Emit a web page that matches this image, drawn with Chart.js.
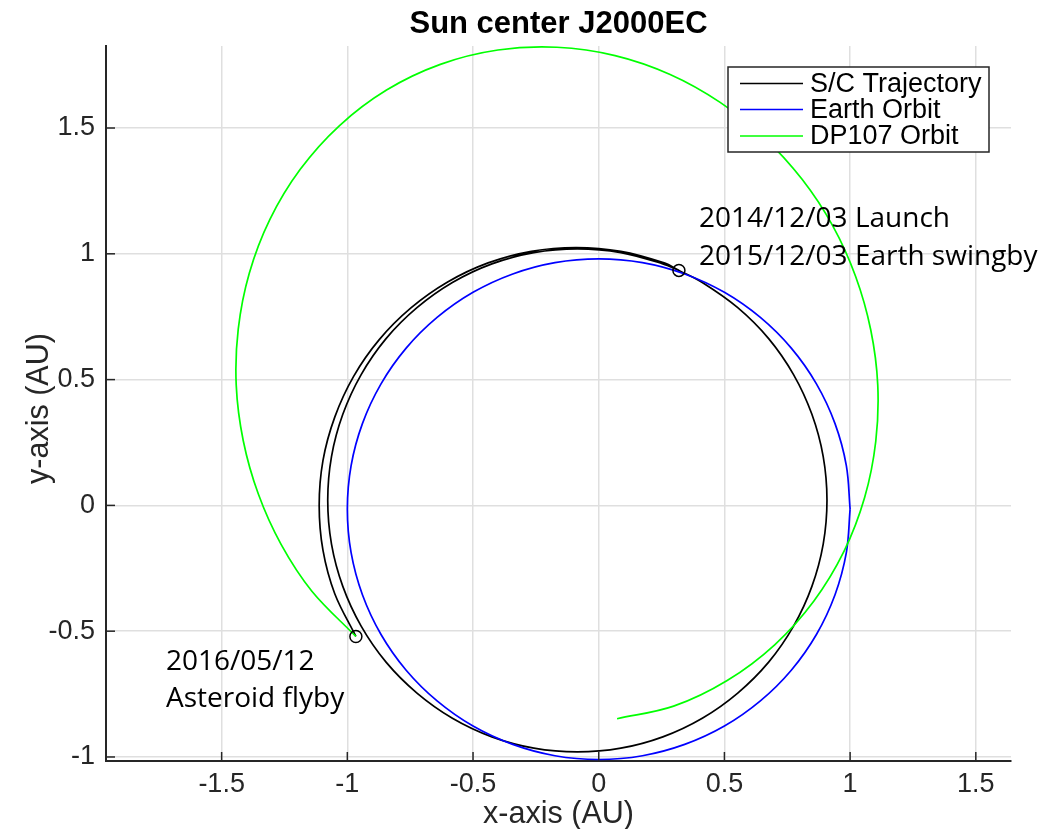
<!DOCTYPE html>
<html>
<head>
<meta charset="utf-8">
<script src="https://cdn.jsdelivr.net/npm/chart.js@4.4.1/dist/chart.umd.min.js"></script>
<style>
html,body{margin:0;padding:0;background:#fff;}
#wrap{width:1045px;height:829px;position:relative;}
</style>
</head>
<body>
<div id="wrap"><canvas id="c" width="1045" height="829"></canvas></div>
<script>
// ---- data (AU) ----
const xTicks = [-1.5, -1, -0.5, 0, 0.5, 1, 1.5];
const xTickLabels = ['-1.5', '-1', '-0.5', '0', '0.5', '1', '1.5'];
const yTicks = [-1, -0.5, 0, 0.5, 1, 1.5];
const yTickLabels = ['-1', '-0.5', '0', '0.5', '1', '1.5'];

// S/C trajectory, first revolution: 2014/12/03 launch -> 2015/12/03 Earth swingby
const scLoop1X = [0.319, 0.255, 0.088, -0.085, -0.258, -0.425, -0.582, -0.723, -0.846, -0.945, -1.018, -1.063, -1.078, -1.063, -1.018, -0.945, -0.846, -0.723, -0.582, -0.425, -0.258, -0.085,
                  0.088, 0.255, 0.412, 0.553, 0.676, 0.775, 0.848, 0.893, 0.908, 0.893, 0.848, 0.775, 0.676, 0.553, 0.412, 0.319];
const scLoop1Y = [0.934, 0.960, 1.005, 1.020, 1.005, 0.960, 0.886, 0.786, 0.663, 0.520, 0.362, 0.194, 0.020, -0.154, -0.322, -0.480, -0.623, -0.746, -0.846, -0.920, -0.965, -0.980,
                  -0.965, -0.920, -0.846, -0.746, -0.623, -0.480, -0.322, -0.154, 0.020, 0.194, 0.362, 0.520, 0.663, 0.786, 0.886, 0.934];
// S/C trajectory, second leg: swingby -> 2016/05/12 asteroid flyby
const scLeg2X = [0.260, 0.088, -0.090, -0.268, -0.440, -0.601, -0.747, -0.873, -0.975, -1.050, -1.097, -1.112, -1.097, -1.050, -0.966];
const scLeg2Y = [0.964, 1.010, 1.025, 1.010, 0.964, 0.888, 0.785, 0.659, 0.513, 0.351, 0.178, 0.000, -0.178, -0.351, -0.521];

// Earth orbit
const earthX = [1.000, 0.985, 0.940, 0.866, 0.766, 0.643, 0.500, 0.342, 0.174, 0.000, -0.174, -0.342, -0.500, -0.643, -0.766, -0.866, -0.940, -0.985,
                -1.000, -0.985, -0.940, -0.866, -0.766, -0.643, -0.500, -0.342, -0.174, 0.000, 0.174, 0.342, 0.500, 0.643, 0.766, 0.866, 0.940, 0.985, 1.000];
const earthY = [-0.015, 0.158, 0.325, 0.483, 0.625, 0.747, 0.847, 0.920, 0.965, 0.980, 0.965, 0.920, 0.847, 0.747, 0.625, 0.483, 0.325, 0.158,
                -0.015, -0.188, -0.355, -0.513, -0.655, -0.777, -0.877, -0.950, -0.995, -1.010, -0.995, -0.950, -0.877, -0.777, -0.655, -0.513, -0.355, -0.188, -0.015];

// DP107 orbit (partial arc ending at the flyby)
const dpX = [0.073, 0.298, 0.511, 0.700, 0.856, 0.976, 1.058, 1.102, 1.110, 1.082, 1.022, 0.931, 0.809, 0.659, 0.483, 0.284, 0.065,
             -0.166, -0.401, -0.630, -0.844, -1.032, -1.188, -1.308, -1.390, -1.434, -1.442, -1.414, -1.354, -1.263, -1.141, -0.966];
const dpY = [-0.848, -0.798, -0.696, -0.554, -0.380, -0.182, 0.032, 0.254, 0.478, 0.698, 0.910, 1.111, 1.296, 1.461, 1.602, 1.713, 1.788,
             1.821, 1.810, 1.753, 1.651, 1.509, 1.335, 1.137, 0.923, 0.701, 0.478, 0.257, 0.045, -0.156, -0.341, -0.521];

// event markers (launch / swingby, asteroid flyby)
const markX = [0.319, -0.966];
const markY = [0.934, -0.521];

const seriesNames = ['S/C Trajectory', 'Earth Orbit', 'DP107 Orbit'];
const seriesColors = ['#000000', '#0000ff', '#00ff00'];

const pts = (xs, ys) => xs.map((x, i) => ({x: x, y: ys[i]}));
const scX = scLoop1X.concat(scLeg2X);
const scY = scLoop1Y.concat(scLeg2Y);

const AXIS = '#262626';
const FONT = '"Liberation Sans", Arial, sans-serif';

const decor = {
  id: 'decor',
  afterDraw(chart) {
    const ctx = chart.ctx;
    const xs = chart.scales.x, ys = chart.scales.y;
    const ca = chart.chartArea;
    ctx.save();
    // inward ticks
    ctx.strokeStyle = AXIS; ctx.lineWidth = 1.5;
    xTicks.forEach(v => {
      const px = xs.getPixelForValue(v);
      ctx.beginPath(); ctx.moveTo(px, ca.bottom); ctx.lineTo(px, ca.bottom - 9); ctx.stroke();
    });
    yTicks.forEach(v => {
      const py = ys.getPixelForValue(v);
      ctx.beginPath(); ctx.moveTo(ca.left, py); ctx.lineTo(ca.left + 9, py); ctx.stroke();
    });
    // title
    ctx.fillStyle = '#000';
    ctx.font = 'bold 31px ' + FONT;
    ctx.textAlign = 'center'; ctx.textBaseline = 'alphabetic';
    ctx.fillText('Sun center J2000EC', (ca.left + ca.right) / 2, 33);
    // axis titles
    ctx.fillStyle = AXIS;
    ctx.font = '30.5px ' + FONT;
    ctx.fillText('x-axis (AU)', (ca.left + ca.right) / 2, 823);
    ctx.save();
    ctx.translate(48, (ca.top + ca.bottom) / 2 + 5);
    ctx.rotate(-Math.PI / 2);
    ctx.fillText('y-axis (AU)', 0, 0);
    ctx.restore();
    // annotations
    ctx.fillStyle = '#000';
    ctx.textAlign = 'left';
    ctx.font = '28px "Open Sans", "Noto Sans", sans-serif';
    ctx.fillText('2014/12/03 Launch', 699, 227);
    ctx.fillText('2015/12/03 Earth swingby', 699, 265);
    ctx.fillText('2016/05/12', 166, 670);
    ctx.fillText('Asteroid flyby', 166, 707);
    // legend
    const bx = 728, by = 67, bw = 261, bh = 85;
    ctx.fillStyle = '#fff';
    ctx.fillRect(bx, by, bw, bh);
    ctx.strokeStyle = AXIS; ctx.lineWidth = 1.5;
    ctx.strokeRect(bx, by, bw, bh);
    ctx.font = '27px ' + FONT;
    ctx.textBaseline = 'middle';
    const rows = [83.5, 109.5, 136];
    seriesNames.forEach((n, i) => {
      ctx.strokeStyle = seriesColors[i]; ctx.lineWidth = 1.5;
      ctx.beginPath(); ctx.moveTo(740, rows[i]); ctx.lineTo(803, rows[i]); ctx.stroke();
      ctx.fillStyle = '#000';
      ctx.fillText(n, 810, rows[i] + 1);
    });
    ctx.restore();
  }
};

new Chart(document.getElementById('c'), {
  type: 'scatter',
  data: {
    datasets: [
      {label: seriesNames[0], data: pts(scX, scY), showLine: true, borderColor: seriesColors[0], borderWidth: 1.7, pointRadius: 0, tension: 0.35, order: 3},
      {label: seriesNames[1], data: pts(earthX, earthY), showLine: true, borderColor: seriesColors[1], borderWidth: 1.7, pointRadius: 0, tension: 0.35, order: 2},
      {label: seriesNames[2], data: pts(dpX, dpY), showLine: true, borderColor: seriesColors[2], borderWidth: 1.7, pointRadius: 0, tension: 0.35, order: 1},
      {label: 'events', data: pts(markX, markY), showLine: false, pointRadius: 6, pointBorderWidth: 1.5, pointBorderColor: '#000', pointBackgroundColor: 'rgba(0,0,0,0)', order: 0}
    ]
  },
  options: {
    responsive: false,
    animation: false,
    layout: {padding: {top: 46, right: 34, left: 0, bottom: 0}},
    plugins: {legend: {display: false}, tooltip: {enabled: false}, title: {display: false}},
    scales: {
      x: {
        type: 'linear', min: -1.96, max: 1.64,
        afterFit: s => { s.height = 68; },
        afterBuildTicks: s => { s.ticks = xTicks.map(v => ({value: v})); },
        ticks: {callback: (v) => xTickLabels[xTicks.indexOf(v)] ?? '', color: AXIS, font: {family: FONT, size: 27}, padding: 7, maxRotation: 0, autoSkip: false},
        grid: {color: '#dfdfdf', lineWidth: 1.5, drawTicks: false},
        border: {display: true, color: AXIS, width: 2}
      },
      y: {
        type: 'linear', min: -1.016, max: 1.826,
        afterFit: s => { s.width = 106; },
        afterBuildTicks: s => { s.ticks = yTicks.map(v => ({value: v})); },
        ticks: {callback: (v) => yTickLabels[yTicks.indexOf(v)] ?? '', color: AXIS, font: {family: FONT, size: 27}, padding: 11, autoSkip: false},
        grid: {color: '#dfdfdf', lineWidth: 1.5, drawTicks: false},
        border: {display: true, color: AXIS, width: 2}
      }
    }
  },
  plugins: [decor]
});
</script>
</body>
</html>
